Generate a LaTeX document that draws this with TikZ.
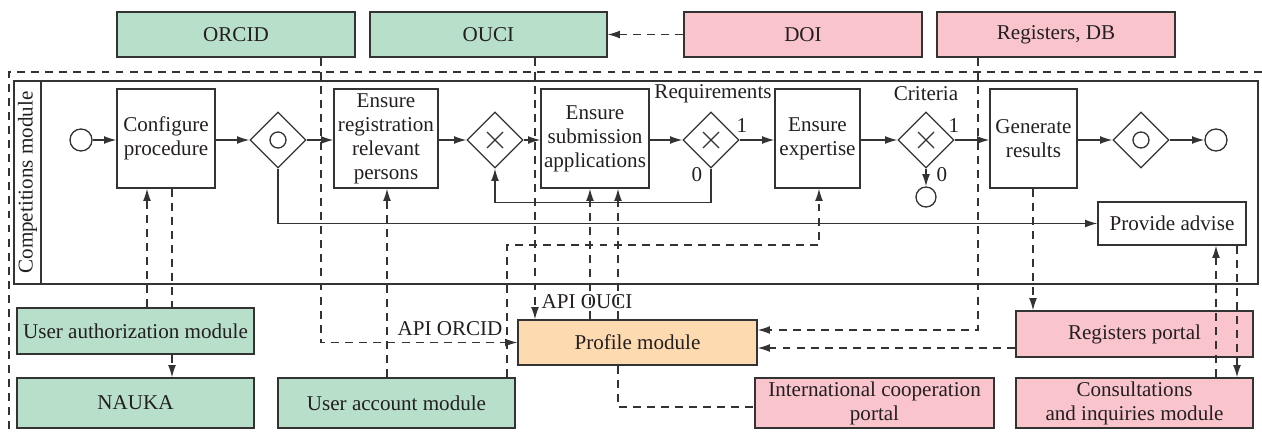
\documentclass[tikz,border=0pt]{standalone}
\usepackage{fontspec}
\setmainfont{Liberation Serif}
\usetikzlibrary{arrows.meta,shapes.geometric}
\definecolor{gfill}{HTML}{B8DFCA}
\definecolor{pfill}{HTML}{F9C4CB}
\definecolor{ofill}{HTML}{FDDAB0}
\definecolor{lc}{HTML}{333333}
\definecolor{tc}{HTML}{231F20}
\begin{document}
\begin{tikzpicture}[x=0.02cm,y=-0.02cm,
  font=\fontsize{12}{13.6}\selectfont, text=tc,
  box/.style={draw=lc, line width=0.75pt, rectangle, inner sep=0pt, align=center},
  task/.style={box, minimum height=1.98cm},
  grn/.style={box, fill=gfill, minimum width=4.74cm},
  pnk/.style={box, fill=pfill, minimum width=4.74cm},
  circ/.style={draw=lc, line width=0.75pt, circle, inner sep=0pt, minimum size=0.44cm},
  gw/.style={draw=lc, line width=0.75pt, diamond, inner sep=0pt, minimum width=1.12cm, minimum height=1.12cm},
  sol/.style={draw=lc, line width=0.75pt},
  dsh/.style={draw=lc, line width=0.75pt, dash pattern=on 4.5pt off 3.5pt},
  arr/.style={-{Latex[length=7pt,width=4.5pt]}},
  lbl/.style={inner sep=0pt}
]
\useasboundingbox (0,0) rectangle (1262,433);

% outer dashed frame
\draw[dsh] (1262,72) -- (9,72) -- (9,433);

% top systems
\node[grn, minimum height=0.9cm, minimum width=4.76cm] (orcid) at (236,34.5) {ORCID};
\node[grn, minimum height=0.9cm] (ouci) at (488.5,34.5) {OUCI};
\node[pnk, minimum height=0.9cm, minimum width=4.76cm] (doi) at (803,34.5) {DOI};
\node[pnk, minimum height=0.9cm, minimum width=4.76cm] (regdb) at (1056,34.5) {Registers, DB};

% pool
\node[box, minimum width=24.88cm, minimum height=4.06cm] (pool) at (636,182.5) {};
\draw[sol] (41,81) -- (41,284);
\node[lbl, rotate=90] (lane) at (27.5,182.5) {Competitions module};

% process
\node[circ] (start) at (81,140) {};
\node[task, minimum width=1.96cm] (conf) at (166,138.5) {Configure\\procedure};
\node[gw] (gw1) at (278,140) {};
\draw[sol] (gw1.center) circle (0.16cm);
\node[task, minimum width=2.08cm] (reg) at (386,138.5) {Ensure\\registration\\relevant\\persons};
\node[gw] (gw2) at (495,140) {};
\draw[sol] (487,132) -- (503,148) (487,148) -- (503,132);
\node[task, minimum width=2.16cm] (sub) at (595,138.5) {Ensure\\submission\\applications};
\node[gw] (gw3) at (711,140) {};
\draw[sol] (703,132) -- (719,148) (703,148) -- (719,132);
\node[task, minimum width=1.70cm] (exp) at (817.5,138.5) {Ensure\\expertise};
\node[gw] (gw4) at (926,140) {};
\draw[sol] (918,132) -- (934,148) (918,148) -- (934,132);
\node[circ, minimum size=0.4cm] (end0) at (926,197) {};
\node[task, minimum width=1.74cm] (gen) at (1033.5,138.5) {Generate\\results};
\node[gw] (gw5) at (1141,140) {};
\draw[sol] (gw5.center) circle (0.16cm);
\node[circ] (endc) at (1216,140) {};
\node[box, minimum width=2.96cm, minimum height=0.86cm] (advise) at (1172,223.5) {Provide advise};

\node[lbl] (reqlbl) at (713,94) {Requirements};
\node[lbl] (critlbl) at (926,94) {Criteria};
\node[lbl] (g3one) at (742,126) {1};
\node[lbl] (g3zero) at (697,175) {0};
\node[lbl] (g4one) at (954,126) {1};
\node[lbl] (g4zero) at (942,175) {0};

% bottom modules
\node[grn, minimum height=0.92cm] (uauth) at (135.5,331) {User authorization module};
\node[grn, minimum height=1.0cm] (nauka) at (135.5,403) {NAUKA};
\node[grn, minimum height=1.0cm] (uacc) at (396.5,403) {User account module};
\node[box, fill=ofill, minimum width=4.78cm, minimum height=0.9cm] (profile) at (637.5,342.5) {Profile module};
\node[pnk, minimum height=1.0cm, minimum width=4.78cm] (intl) at (874.5,403) {International cooperation\\portal};
\node[pnk, minimum height=0.92cm] (regp) at (1134.5,334) {Registers portal};
\node[pnk, minimum height=1.0cm] (cons) at (1134.5,403) {Consultations\\and inquiries module};

\node[lbl] (apiorcid) at (450,329) {API ORCID};
\node[lbl] (apiouci) at (587,302) {API OUCI};

% solid flow
\draw[sol,arr] (start) -- (start -| conf.west);
\draw[sol,arr] (conf.east |- gw1) -- (gw1.west);
\draw[sol,arr] (gw1.east) -- (gw1 -| reg.west);
\draw[sol,arr] (reg.east |- gw2) -- (gw2.west);
\draw[sol,arr] (gw2.east) -- (gw2 -| sub.west);
\draw[sol,arr] (sub.east |- gw3) -- (gw3.west);
\draw[sol,arr] (gw3.east) -- (gw3 -| exp.west);
\draw[sol,arr] (exp.east |- gw4) -- (gw4.west);
\draw[sol,arr] (gw4.east) -- (gw4 -| gen.west);
\draw[sol,arr] (gen.east |- gw5) -- (gw5.west);
\draw[sol,arr] (gw5.east) -- (endc.west);
\draw[sol,arr] (gw4.south) -- (end0.north);
\draw[sol,arr] (gw3.south) -- ++(0,34) -| (gw2.south);
\draw[sol,arr] (gw1.south) |- (advise.west);

% dashed links
\draw[dsh,arr] (doi.west) -- (ouci.east);
\draw[dsh,arr] (orcid.south -| 321,0) |- (profile.west);
\draw[dsh,arr] (ouci.south -| 535,0) -- (profile.north -| 535,0);
\draw[dsh,arr] (regdb.south -| 978,0) |- (profile.east |- 0,330);
\draw[dsh,arr] (regp.west |- 0,348) -- (profile.east |- 0,348);
\draw[dsh] (profile.south -| 618,0) |- (intl.west |- 0,407);
\draw[dsh,arr] (profile.north -| 590,0) -- (sub.south -| 590,0);
\draw[dsh,arr] (profile.north -| 618,0) -- (sub.south -| 618,0);
\draw[dsh,arr] (uacc.north -| 507,0) -- (507,245) -| (exp.south -| 819,0);
\draw[dsh,arr] (uacc.north -| 387,0) -- (reg.south -| 387,0);
\draw[dsh,arr] (uauth.north -| 147,0) -- (conf.south -| 147,0);
\draw[dsh] (conf.south -| 172,0) -- (uauth.north -| 172,0);
\draw[dsh,arr] (uauth.south -| 172,0) -- (nauka.north -| 172,0);
\draw[dsh,arr] (gen.south -| 1033,0) -- (regp.north -| 1033,0);
\draw[dsh,arr] (cons.north -| 1216,0) -- (advise.south -| 1216,0);
\draw[dsh,arr] (advise.south -| 1237,0) -- (cons.north -| 1237,0);
\end{tikzpicture}
\end{document}
